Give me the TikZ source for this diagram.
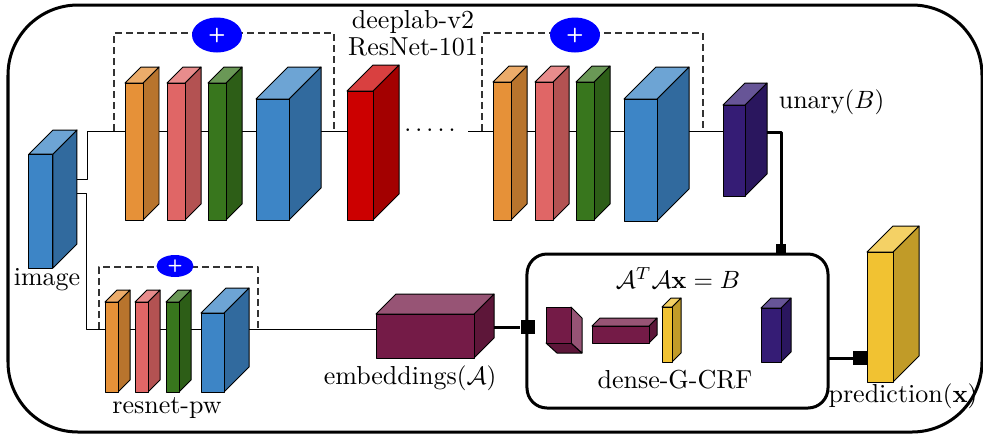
\documentclass[tikz,border=0pt]{standalone}
\usetikzlibrary{calc}
\usetikzlibrary{shapes.geometric}

% layer colours
\definecolor{lorange}{HTML}{E69138}
\definecolor{lpink}{HTML}{E06666}
\definecolor{lgreen}{HTML}{38761D}
\definecolor{lblue}{HTML}{3D85C6}
\definecolor{lred}{HTML}{CC0000}
\definecolor{lpurple}{HTML}{351C75}
\definecolor{lmaroon}{HTML}{741B47}
\definecolor{lyellow}{HTML}{F1C232}

% layer: x, y (top of front face), width, height, depth, colour
\newcommand{\layerbox}[6]{%
  \filldraw[fill=#6!80!black] (#1+#3,#2) -- ++(#5,-#5) -- ++(0,#4) -- ++(-#5,#5) -- cycle;
  \filldraw[fill=#6!75!white] (#1,#2) -- ++(#5,-#5) -- ++(#3,0) -- ++(-#5,#5) -- cycle;
  \filldraw[fill=#6] (#1,#2) rectangle ++(#3,#4);
}

\begin{document}
\begin{tikzpicture}[x=0.4pt,y=-0.4pt,line join=round,
  font=\fontsize{10.4}{12}\selectfont,
  plus/.style={ellipse,fill=blue,text=white,font=\sffamily\bfseries\footnotesize,inner sep=0pt},
  sq/.style={fill=black,inner sep=0pt,minimum size=#1},
  sq/.default=5.6pt,
  heavy/.style={line width=1.2pt},
  skip/.style={dashed,dash pattern=on 2.8pt off 1.6pt,line width=0.5pt,black!80}]
\useasboundingbox (0,0) rectangle (983,435);

% outer frame
\draw[heavy,rounded corners=28pt] (8,5) rectangle (982,432);

% connectors
\coordinate (img1) at (77,179);
\coordinate (img2) at (77,193);
\coordinate (top1) at (88,131);
\coordinate (redend) at (399,131);
\coordinate (top2) at (468,131);
\coordinate (unaryin) at (723,131);
\coordinate (bot1) at (87,329);
\coordinate (embin) at (376,329);
\draw (img1) -| (top1) -- (redend);
\draw (top2) -- (unaryin);
\draw (img2) -| (bot1) -- (embin);
\node (dots) at (430,130) {$.\,.\,.\,.\,.$};

% skip connections
\draw[skip] (114,131) |- (334,33) -- (334,131);
\draw[skip] (482,131) |- (703,33) -- (703,131);
\draw[skip] (99,329) |- (258,267) -- (258,329);
\node[plus,minimum width=20pt,minimum height=14pt] (plus1) at (217,35) {+};
\node[plus,minimum width=20pt,minimum height=14pt] (plus2) at (575,35) {+};
\node[plus,minimum width=14.8pt,minimum height=8.8pt,font=\sffamily\bfseries\scriptsize] (plus3) at (175,266) {+};

% input
\layerbox{29}{154}{24}{114}{24}{lblue}
\node (image) at (47,280) {image};

% deeplab-v2
\layerbox{125}{83}{18}{137}{16}{lorange}
\layerbox{167}{83}{18}{137}{16}{lpink}
\layerbox{208}{83}{18}{137}{16}{lgreen}
\layerbox{256}{99}{33}{121}{32}{lblue}
\layerbox{347}{91}{26}{129}{26}{lred}
\node (deeplab) at (413,22) {deeplab-v2};
\node (resnet) at (413,47) {ResNet-101};
\layerbox{493}{82}{18}{138}{16}{lorange}
\layerbox{535}{82}{18}{138}{16}{lpink}
\layerbox{576}{82}{18}{138}{16}{lgreen}
\layerbox{624}{99}{33}{122}{32}{lblue}
\layerbox{723}{105}{22}{91}{22}{lpurple}
\node[anchor=west] (unary) at (770,102) {unary$(B)$};

% resnet-pw
\layerbox{105}{302}{13}{90}{12}{lorange}
\layerbox{135}{302}{13}{90}{12}{lpink}
\layerbox{166}{302}{13}{90}{12}{lgreen}
\layerbox{201}{313}{23}{79}{25}{lblue}
\node (pw) at (167,408) {resnet-pw};
\layerbox{376}{314}{98}{44}{20}{lmaroon}
\node (emb) at (410,378) {embeddings$(\mathcal{A})$};

% dense-G-CRF
\node[draw,heavy,rounded corners=8pt,minimum width=120.4pt,minimum height=61.6pt] (crf) at (677.5,331) {};
\node (eq) at (678,278) {$\mathcal{A}^T\mathcal{A}\mathbf{x}=B$};
\node (crfname) at (675,380) {dense-G-CRF};
\filldraw[fill=lmaroon!80!black] (546,343) -- (571,343) -- (582,353) -- (557,353) -- cycle;
\filldraw[fill=lmaroon!75!white] (571,307) -- (582,318) -- (582,353) -- (571,343) -- cycle;
\filldraw[fill=lmaroon] (546,307) rectangle (571,343);
\layerbox{592}{326}{57}{17}{8}{lmaroon}
\layerbox{662}{307}{10}{55}{9}{lyellow}
\layerbox{761}{308}{20}{54}{10}{lpurple}

% output
\layerbox{867}{252}{26}{130}{26}{lyellow}
\node (pred) at (903,396) {prediction$(\mathbf{x})$};

% to the CRF
\coordinate (unaryout) at (767,132);
\coordinate (embout) at (494,327);
\coordinate (crfout) at (828,358);
\node[sq=4pt] (sqtop) at (781,249) {};
\node[sq] (sqleft) at (528,327) {};
\node[sq] (sqright) at (860,358) {};
\draw[heavy] (unaryout) -| (sqtop);
\draw[heavy] (embout) -- (sqleft);
\draw[heavy] (crfout) -- (sqright);
\end{tikzpicture}
\end{document}
